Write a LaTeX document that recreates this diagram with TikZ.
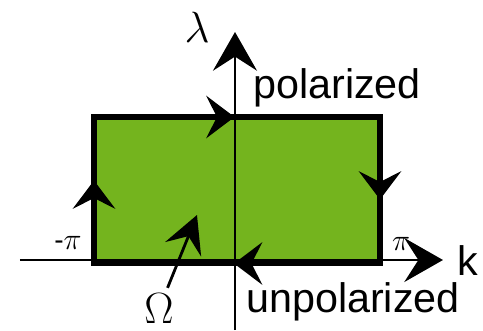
\documentclass[tikz,border=0pt]{standalone}
\usepackage{fontspec}
\setmainfont{Liberation Sans}
\usetikzlibrary{arrows.meta,decorations.markings}
\definecolor{zonegreen}{RGB}{116,180,30}

\begin{document}
\begin{tikzpicture}[
    axis/.style={line width=1.6pt, -{Stealth[length=22pt, width=25pt, inset=8pt]}},
    pointer/.style={line width=1.6pt, -{Stealth[length=21pt, width=22pt, inset=8pt]}},
    border/.style={line width=3.4pt, line join=miter},
    flowtip/.tip={Stealth[length=16pt, width=24pt, inset=6pt]},
    flow/.style={postaction=decorate, decoration={markings,
        mark=at position 1.66cm with {\arrow{flowtip}},
        mark=at position 5.74cm with {\arrow{flowtip}},
        mark=at position 10.30cm with {\arrow{flowtip}},
        mark=at position 14.50cm with {\arrow{flowtip}}}},
    word/.style={font=\fontsize{23.5}{28}\selectfont, inner sep=0pt},
    greek/.style={font=\fontsize{27}{30}\selectfont},
    tick/.style={font=\fontsize{16}{18}\selectfont, inner sep=0pt}
]
\useasboundingbox (-4.70,-1.40) rectangle (4.96,5.20);

% Region Omega
\fill[zonegreen] (-2.82,-0.07) rectangle (2.90,2.86);

% Axes
\draw[axis] (-4.30,0) -- (4.16,0);
\draw[axis] (0,-1.40) -- (0,4.56);

% Loop around the region
\draw[border, flow] (-2.82,-0.07) -- (-2.82,2.86) -- (2.90,2.86)
    -- (2.90,-0.07) -- cycle;

% Labels
\node[greek] (lambda) at (-0.76,4.66) {$\lambda$};
\node[word] (k) at (4.66,-0.02) {k};
\node[word] (pol) at (2.04,3.44) {polarized};
\node[word] (unpol) at (2.36,-0.84) {unpolarized};
\node[tick] (mpi) at (-3.34,0.34) {-$\pi$};
\node[tick] (pi) at (3.32,0.32) {$\pi$};
\node[greek] (omega) at (-1.52,-0.98) {$\Omega$};

\coordinate (omegatip) at (-0.76,0.90);
\draw[pointer] (omega) -- (omegatip);

\end{tikzpicture}
\end{document}
